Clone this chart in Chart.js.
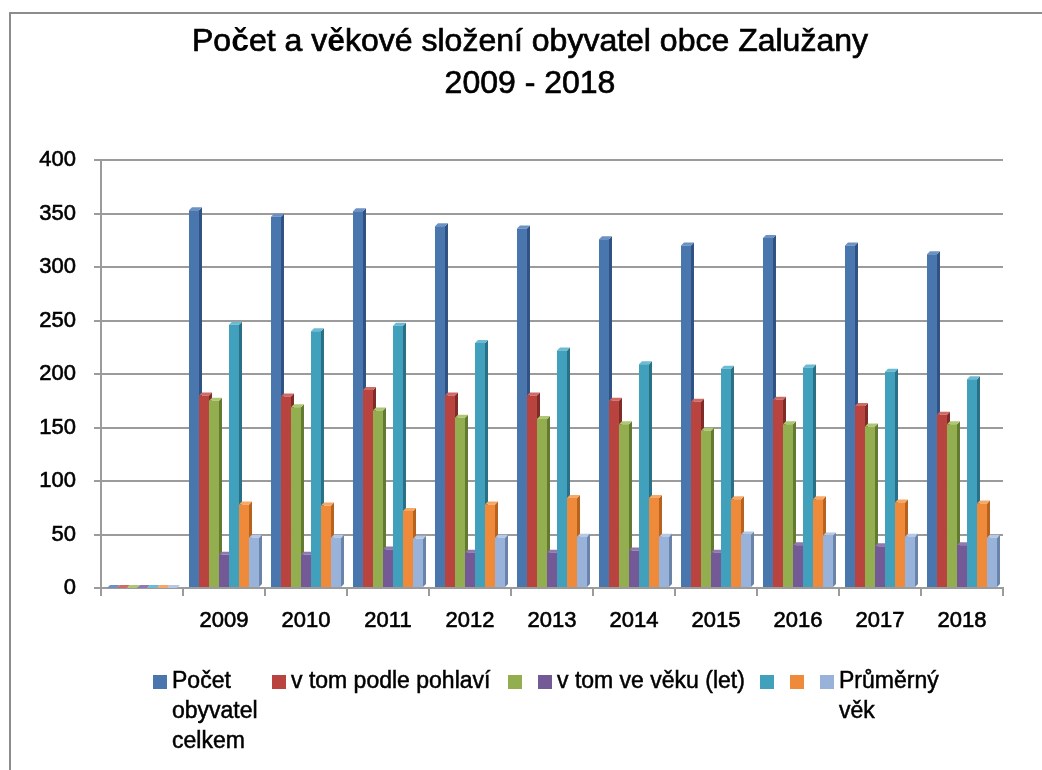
<!DOCTYPE html>
<html>
<head>
<meta charset="utf-8">
<script src="https://cdn.jsdelivr.net/npm/chart.js@4.4.0/dist/chart.umd.min.js"></script>
<style>
  html, body { margin: 0; padding: 0; background: #fff; }
  #wrap { position: relative; width: 1042px; height: 770px; overflow: hidden;
          font-family: "Liberation Sans", Arial, sans-serif; color: #000; }
  #frame { position: absolute; left: 9px; top: 12px; width: 1100px; height: 900px;
           border-left: 2px solid #8c8c8c; border-top: 2px solid #8c8c8c; }
  #title { position: absolute; left: 18px; width: 1024px; top: 19px; text-align: center;
           font-size: 32px; line-height: 42px; z-index: 2; -webkit-text-stroke: 0.7px #000; }
  #title b { font-weight: bold; -webkit-text-stroke: 0; }
  canvas { position: absolute; left: 0; top: 0; z-index: 1; }
  .item { position: absolute; top: 665px; display: flex; align-items: flex-start;
          font-size: 23px; line-height: 30px; z-index: 2; -webkit-text-stroke: 0.5px #000; }
  .box { width: 14px; height: 14px; margin-top: 10px; margin-right: 5px; flex: none; }
</style>
</head>
<body>
<div id="wrap">
  <div id="frame"></div>
  <div id="title">Po<b>č</b>et a v<b>ě</b>kové složení obyvatel obce Zalužany<br>2009 - 2018</div>
  <canvas id="c" width="1042" height="770"></canvas>
  <div id="legend"></div>
</div>
<script>
// ---- data ----
const categories = ["", "2009", "2010", "2011", "2012", "2013", "2014", "2015", "2016", "2017", "2018"];
const seriesNames = ["Počet obyvatel celkem", "v tom podle pohlaví", "", "v tom ve věku (let)", "", "", "Průměrný věk"];
const pocetCelkem   = [0, 353, 347, 352, 338, 336, 326, 320, 327, 320, 312];
const podlePohlavi  = [0, 180, 179, 185, 180, 180, 175, 174, 176, 170, 162];
const serieZelena   = [0, 175, 169, 166, 159, 158, 153, 147, 153, 151, 153];
const veVeku        = [0, 31, 31, 36, 33, 33, 35, 33, 40, 39, 40];
const serieTyrkys   = [0, 246, 240, 245, 229, 222, 209, 205, 206, 202, 195];
const serieOranz    = [0, 78, 77, 72, 78, 84, 84, 83, 83, 80, 79];
const prumernyVek   = [0, 47, 47, 46, 47, 48, 48, 50, 49, 48, 47];
const yTicks = [0, 50, 100, 150, 200, 250, 300, 350, 400];

// ---- styles ----
const frontColors = ["#4A76AE", "#B9443F", "#92AE4E", "#735996", "#41A0BB", "#EE8A3A", "#98B2DA"];
const sideColors  = ["#2F5283", "#7F2B28", "#637A32", "#4E3C68", "#2A7086", "#B8621F", "#6A83A8"];
const topColors   = ["#6C92C4", "#CF6A66", "#AEC774", "#9078B0", "#6BBBD2", "#F6A866", "#B4C8E6"];
const legendLeft  = [153, 272, 508, 538, 760, 790, 820];
const legendWrap  = [95, null, null, null, null, null, 110];

const seriesValues = [pocetCelkem, podlePohlavi, serieZelena, veVeku, serieTyrkys, serieOranz, prumernyVek];

const datasets = seriesValues.map((vals, i) => ({
  label: seriesNames[i],
  data: vals,
  backgroundColor: frontColors[i],
  borderWidth: 0,
  barPercentage: 1.0,
  categoryPercentage: 0.854
}));

const depth3d = {
  id: 'depth3d',
  beforeDatasetsDraw(chart) {
    const ctx = chart.ctx;
    const d = 3;
    ctx.save();
    chart.data.datasets.forEach((ds, i) => {
      const meta = chart.getDatasetMeta(i);
      meta.data.forEach(bar => {
        const p = bar.getProps(['x', 'y', 'base', 'width'], true);
        const l = p.x - p.width / 2, r = p.x + p.width / 2;
        ctx.fillStyle = sideColors[i];
        ctx.beginPath();
        ctx.moveTo(r, p.y); ctx.lineTo(r + d, p.y - d); ctx.lineTo(r + d, p.base - d); ctx.lineTo(r, p.base);
        ctx.closePath(); ctx.fill();
        ctx.fillStyle = topColors[i];
        ctx.beginPath();
        ctx.moveTo(l, p.y); ctx.lineTo(l + d, p.y - d); ctx.lineTo(r + d, p.y - d); ctx.lineTo(r, p.y);
        ctx.closePath(); ctx.fill();
      });
    });
    ctx.restore();
  }
};

const gridColor = "#9b9b9b";
const tickFont = { family: "Liberation Sans", size: 22 };
new Chart(document.getElementById('c'), {
  type: 'bar',
  data: { labels: categories, datasets },
  options: {
    responsive: false,
    animation: false,
    layout: { padding: { left: 0, right: 39, top: 160, bottom: 0 } },
    plugins: { legend: { display: false }, title: { display: false }, tooltip: { enabled: false } },
    scales: {
      x: {
        offset: true,
        grid: { drawOnChartArea: false, drawTicks: true, tickLength: 8, color: gridColor, lineWidth: 2, offset: true },
        border: { color: gridColor, width: 2 },
        ticks: { color: "#000", font: tickFont, padding: 12, maxRotation: 0, autoSkip: false,
                 textStrokeColor: "#000", textStrokeWidth: 0.6 },
        afterFit(scale) { scale.height = 182; }
      },
      y: {
        min: 0, max: 400,
        afterBuildTicks(scale) { scale.ticks = yTicks.map(v => ({ value: v })); },
        grid: { color: gridColor, lineWidth: 2, tickLength: 7 },
        border: { color: gridColor, width: 2 },
        ticks: { color: "#000", font: tickFont, padding: 18,
                 textStrokeColor: "#000", textStrokeWidth: 0.6 },
        afterFit(scale) { scale.width = 101; }
      }
    }
  },
  plugins: [depth3d]
});

// ---- HTML legend built from dataset names ----
const legend = document.getElementById('legend');
seriesNames.forEach((name, i) => {
  const item = document.createElement('div');
  item.className = 'item';
  item.style.left = legendLeft[i] + 'px';
  const box = document.createElement('div');
  box.className = 'box';
  box.style.background = frontColors[i];
  item.appendChild(box);
  if (name) {
    const t = document.createElement('div');
    t.textContent = name;
    if (legendWrap[i]) { t.style.width = legendWrap[i] + 'px'; } else { t.style.whiteSpace = 'nowrap'; }
    item.appendChild(t);
  }
  legend.appendChild(item);
});
</script>
</body>
</html>
